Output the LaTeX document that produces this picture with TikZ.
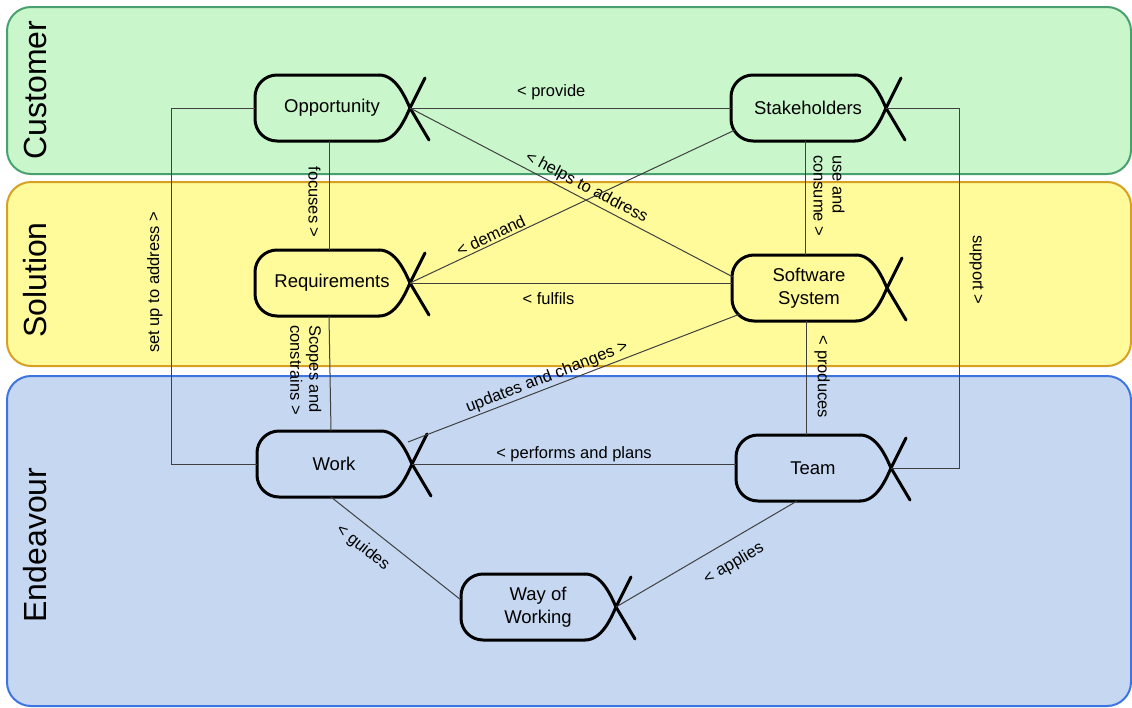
\documentclass[tikz,border=0pt]{standalone}
\usepackage{fontspec}
\setmainfont{Liberation Sans}
\definecolor{custfill}{RGB}{201,247,203}
\definecolor{custline}{RGB}{72,160,110}
\definecolor{solfill}{RGB}{255,251,155}
\definecolor{solline}{RGB}{214,160,32}
\definecolor{endfill}{RGB}{198,216,241}
\definecolor{endline}{RGB}{62,116,226}
\begin{document}
\begin{tikzpicture}[x=1pt, y=-1pt,
  lane/.style={rounded corners=24pt, line width=2pt},
  lanelabel/.style={rotate=90, font=\fontsize{32}{36}\selectfont},
  shapeline/.style={line width=3pt, line cap=round, line join=round},
  link/.style={draw=black!75, line width=1pt},
  lbl/.style={font=\fontsize{16.5}{19}\selectfont, inner sep=2pt},
  vlbl/.style={lbl, inner ysep=8pt},
  essence/.pic={
    \draw[shapeline, rounded corners=22pt] (124,-33) -- (0,-33) -- (0,33) -- (124,33);
    \draw[shapeline] (124,-33) .. controls (141,-33) and (150,-11) .. (155,0) -- (174,32);
    \draw[shapeline] (124,33) .. controls (141,33) and (150,11) .. (155,0) -- (170,-30);
    \node[font=\fontsize{18.5}{23}\selectfont, align=center] (-c) at (77,0) {#1};
    \coordinate (-w) at (0,0);
    \coordinate (-e) at (155,0);
    \coordinate (-n) at (74,-33);
    \coordinate (-s) at (74,33);
    \coordinate (-wn) at (1,-11);
    \coordinate (-ws) at (8,26);
    \coordinate (-sw) at (4,22);
    \coordinate (-ne) at (151,-22);
    \coordinate (-sl) at (61,33);
    \coordinate (-wl) at (0,-7);
  }]
  \useasboundingbox (0,0) rectangle (1132,707);

  % Areas of concern
  \draw[lane, fill=custfill, draw=custline] (7,7) rectangle (1131,174);
  \draw[lane, fill=solfill, draw=solline] (7,182) rectangle (1131,366);
  \draw[lane, fill=endfill, draw=endline] (7,376) rectangle (1131,706);
  \node[lanelabel] (customer) at (35,90) {Customer};
  \node[lanelabel] (solution) at (35,280) {Solution};
  \node[lanelabel] (endeavour) at (35,545) {Endeavour};

  % Essential alphas
  \pic (opp) at (255,108) {essence={Opportunity}};
  \pic (stake) at (731,108) {essence={Stakeholders}};
  \pic (req) at (255,283) {essence={Requirements}};
  \pic (sw) at (732,288) {essence={Software\\System}};
  \pic (work) at (257,464) {essence={Work}};
  \pic (team) at (736,468) {essence={Team}};
  \pic (wow) at (461,607) {essence={Way of\\Working}};

  % Horizontal relations
  \draw[link] (opp-e) -- node[lbl, above=6pt, pos=0.44] {< provide} (opp-e -| stake-w);
  \draw[link] (req-e) -- node[lbl, below=7pt, pos=0.43] {< fulfils} (req-e -| sw-w);
  \draw[link] (work-e) -- node[lbl, above, pos=0.5] {< performs and plans} (work-e -| team-w);

  % Diagonal relations
  \draw[link] (opp-e) -- node[lbl, sloped, above=1pt, pos=0.53] {< helps to address} (sw-wn);
  \draw[link] (req-e) -- node[lbl, sloped, above, pos=0.26] {< demand} (stake-sw);
  \draw[link] (work-ne) -- node[lbl, sloped, above, pos=0.43] {updates and changes >} (sw-ws);
  \draw[link] (work-s) -- node[lbl, sloped, below=10pt, pos=0.34] {< guides} (wow-wl);
  \draw[link] (wow-e) -- node[lbl, sloped, below=12pt, pos=0.59] {< applies} (team-sl);

  % Vertical relations
  \draw[link] (opp-s) -- node[vlbl, rotate=-90, anchor=north, pos=0.56] {focuses >} (req-n);
  \draw[link] (stake-s) -- node[vlbl, rotate=-90, anchor=south, align=left, pos=0.48] {use and\\consume >} (stake-s |- sw-n);
  \draw[link] (req-s) -- node[vlbl, rotate=-90, anchor=north, align=left, pos=0.47] {Scopes and\\constrains >} (work-n);
  \draw[link] (sw-s) -- node[vlbl, rotate=-90, anchor=south, pos=0.49] {< produces} (sw-s |- team-n);

  % Outer relations
  \draw[link] (opp-w) -- ++(-84,0) |- node[vlbl, rotate=90, anchor=south, pos=0.245] {set up to address >} (work-w);
  \draw[link] (stake-e) -- ++(73,0) |- node[vlbl, inner ysep=10pt, rotate=-90, anchor=south, pos=0.225] {support >} (team-e);

\end{tikzpicture}
\end{document}
